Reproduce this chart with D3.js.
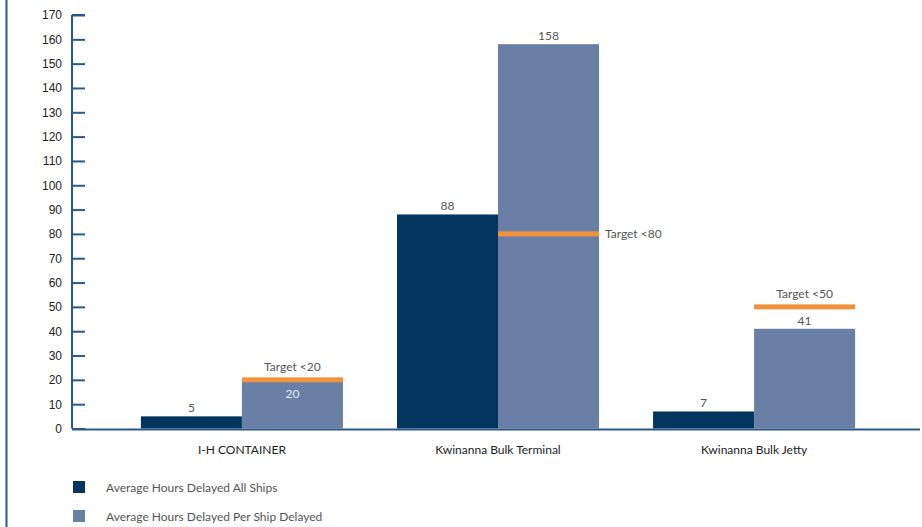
<!DOCTYPE html>
<html>
<head>
<meta charset="utf-8">
<script src="https://cdn.jsdelivr.net/npm/d3@7"></script>
<style>
  html, body { margin: 0; padding: 0; background: #fff; }
  svg { display: block; font-family: "Lato", "Open Sans", sans-serif; }
</style>
</head>
<body>
<svg id="chart" width="922" height="527"></svg>
<script>
// Port delay statistics (hours)
const categories = ["I-H CONTAINER", "Kwinanna Bulk Terminal", "Kwinanna Bulk Jetty"];
const allShips = [5, 88, 7];
const perShipDelayed = [20, 158, 41];
const targets = [20, 80, 50];
const targetLabels = ["Target <20", "Target <80", "Target <50"];
const seriesNames = ["Average Hours Delayed All Ships", "Average Hours Delayed Per Ship Delayed"];
const yTicks = [0, 10, 20, 30, 40, 50, 60, 70, 80, 90, 100, 110, 120, 130, 140, 150, 160, 170];

const darkBlue = "#02365f";
const lightBlue = "#6a7fa6";
const orange = "#f0923c";
const axisColor = "#285987";
const labelGray = "#555";

const svg = d3.select("#chart");

const y = d3.scaleLinear().domain([0, 170]).range([428.5, 15]);
const x = d3.scaleBand().domain(categories).range([114, 882])
  .paddingInner(0.211).paddingOuter(0.105);
const sub = d3.scaleBand().domain([0, 1]).range([0, x.bandwidth()]);

// frame line on the left edge
svg.append("line").attr("x1", 6.5).attr("x2", 6.5).attr("y1", 0).attr("y2", 527)
  .attr("stroke", axisColor).attr("stroke-width", 2);

// bars
const groups = svg.append("g").selectAll("g").data(categories).join("g")
  .attr("transform", d => `translate(${x(d)},0)`);

groups.append("rect")
  .attr("x", sub(0)).attr("width", sub.bandwidth())
  .attr("y", (d, i) => y(allShips[i]))
  .attr("height", (d, i) => y(0) - y(allShips[i]))
  .attr("fill", darkBlue);

groups.append("rect")
  .attr("x", sub(1)).attr("width", sub.bandwidth())
  .attr("y", (d, i) => y(perShipDelayed[i]))
  .attr("height", (d, i) => y(0) - y(perShipDelayed[i]))
  .attr("fill", lightBlue);

// value labels
groups.append("text")
  .attr("x", sub(0) + sub.bandwidth() / 2)
  .attr("y", (d, i) => y(allShips[i]) - 4)
  .attr("text-anchor", "middle").attr("font-size", 12).attr("fill", labelGray)
  .text((d, i) => allShips[i]);

groups.append("text")
  .attr("x", sub(1) + sub.bandwidth() / 2)
  .attr("y", (d, i) => perShipDelayed[i] === targets[i] ? y(perShipDelayed[i]) + 18 : y(perShipDelayed[i]) - 4)
  .attr("text-anchor", "middle").attr("font-size", 12)
  .attr("fill", (d, i) => perShipDelayed[i] === targets[i] ? "#e4e8f0" : labelGray)
  .text((d, i) => perShipDelayed[i]);

// target markers
groups.append("rect")
  .attr("x", sub(1)).attr("width", sub.bandwidth())
  .attr("y", (d, i) => y(targets[i]) - 2.5).attr("height", 5)
  .attr("fill", orange);

groups.append("text")
  .attr("x", (d, i) => targets[i] < perShipDelayed[i] ? sub(1) + sub.bandwidth() + 6 : sub(1) + sub.bandwidth() / 2)
  .attr("y", (d, i) => targets[i] < perShipDelayed[i] ? y(targets[i]) + 4 : y(targets[i]) - 9)
  .attr("text-anchor", (d, i) => targets[i] < perShipDelayed[i] ? "start" : "middle")
  .attr("font-size", 12).attr("fill", labelGray)
  .text((d, i) => targetLabels[i]);

// y axis
const yAxis = svg.append("g").attr("transform", "translate(72,0)")
  .call(d3.axisRight(y).tickValues(yTicks).tickSize(13).tickFormat(d => d));
yAxis.select(".domain").attr("stroke", axisColor).attr("stroke-width", 2)
  .attr("d", `M0,${y(170)}H13M0,${y(170)}V${y(0)}`);
yAxis.selectAll(".tick line").attr("stroke", axisColor).attr("stroke-width", 2);
yAxis.selectAll(".tick text").attr("x", -10).attr("text-anchor", "end")
  .attr("font-size", 12).attr("fill", "#222");

// x axis baseline
svg.append("line").attr("x1", 72).attr("x2", 920).attr("y1", y(0) + 1).attr("y2", y(0) + 1)
  .attr("stroke", axisColor).attr("stroke-width", 2);

// category labels
svg.append("g").selectAll("text").data(categories).join("text")
  .attr("x", d => x(d) + x.bandwidth() / 2).attr("y", 454)
  .attr("text-anchor", "middle").attr("font-size", 12).attr("fill", "#222")
  .text(d => d);

// legend
const legend = svg.append("g").selectAll("g").data(seriesNames).join("g")
  .attr("transform", (d, i) => `translate(73,${481 + i * 29})`);
legend.append("rect").attr("width", 12).attr("height", 12)
  .attr("fill", (d, i) => i === 0 ? darkBlue : lightBlue);
legend.append("text").attr("x", 33).attr("y", 10.5)
  .attr("font-size", 12).attr("fill", labelGray).text(d => d);
</script>
</body>
</html>
